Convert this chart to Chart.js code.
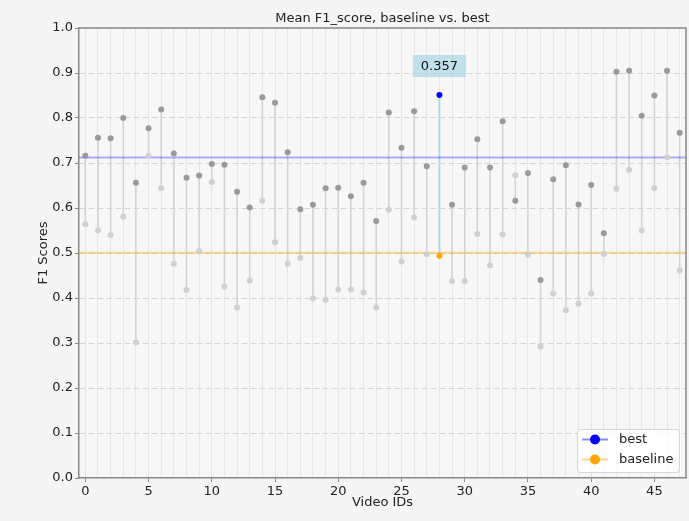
<!DOCTYPE html>
<html>
<head>
<meta charset="utf-8">
<script src="https://cdn.jsdelivr.net/npm/chart.js@4/dist/chart.umd.min.js"></script>
<style>
  html, body { margin: 0; padding: 0; background: #f5f5f5; }
  #wrap { width: 689px; height: 521px; }
  canvas { display: block; }
</style>
</head>
<body>
<div id="wrap"><canvas id="chart" width="689" height="521"></canvas></div>
<script>
// Per-video F1 scores for the two runs
const videoIds = [0, 1, 2, 3, 4, 5, 6, 7, 8, 9, 10, 11, 12, 13, 14, 15, 16, 17, 18, 19, 20, 21, 22, 23,
                  24, 25, 26, 27, 28, 29, 30, 31, 32, 33, 34, 35, 36, 37, 38, 39, 40, 41, 42, 43, 44, 45, 46, 47];
const bestScores = [0.716, 0.756, 0.755, 0.800, 0.656, 0.777, 0.819, 0.721, 0.667, 0.672,
                    0.698, 0.696, 0.636, 0.601, 0.846, 0.834, 0.724, 0.597, 0.607, 0.644,
                    0.645, 0.626, 0.656, 0.571, 0.812, 0.734, 0.815, 0.693, 0.851, 0.607,
                    0.690, 0.753, 0.690, 0.793, 0.616, 0.678, 0.440, 0.664, 0.695, 0.608,
                    0.651, 0.544, 0.903, 0.905, 0.805, 0.850, 0.905, 0.767];
const baselineScores = [0.564, 0.550, 0.540, 0.581, 0.301, 0.716, 0.644, 0.476, 0.418, 0.504,
                        0.658, 0.425, 0.379, 0.439, 0.616, 0.524, 0.476, 0.489, 0.399, 0.396,
                        0.419, 0.419, 0.412, 0.379, 0.596, 0.481, 0.579, 0.497, 0.494, 0.438,
                        0.438, 0.542, 0.473, 0.541, 0.673, 0.496, 0.292, 0.410, 0.373, 0.387,
                        0.410, 0.498, 0.643, 0.685, 0.550, 0.644, 0.713, 0.461];
const highlightId = 28;
const yTickValues = [0.0, 0.1, 0.2, 0.3, 0.4, 0.5, 0.6, 0.7, 0.8, 0.9, 1.0];
const xTickLabels = [0, 5, 10, 15, 20, 25, 30, 35, 40, 45];

const FONT = "'DejaVu Sans', sans-serif";
const mean = a => a.reduce((s, v) => s + v, 0) / a.length;
const meanBest = mean(bestScores);
const meanBaseline = mean(baselineScores);
const xMin = -0.5, xMax = 47.5;

const bestPoints = videoIds.map((id, i) => ({ x: id, y: bestScores[i] }));
const basePoints = videoIds.map((id, i) => ({ x: id, y: baselineScores[i] }));

// Vertical stems between the two scores of each video, title, axis titles,
// the outer frame, the gain annotation and the legend.
const decorations = {
  id: 'decorations',
  beforeDraw(chart) {
    const { ctx, chartArea: a } = chart;
    ctx.save();
    ctx.fillStyle = '#f7f7f7';
    ctx.fillRect(a.left, a.top, a.right - a.left, a.bottom - a.top);
    ctx.restore();
  },
  beforeDatasetsDraw(chart) {
    const { ctx, scales: { x, y } } = chart;
    ctx.save();
    videoIds.forEach((id, i) => {
      const px = x.getPixelForValue(id);
      ctx.beginPath();
      ctx.moveTo(px, y.getPixelForValue(bestScores[i]));
      ctx.lineTo(px, y.getPixelForValue(baselineScores[i]));
      if (id === highlightId) {
        ctx.strokeStyle = '#add8e6';
        ctx.lineWidth = 2;
      } else {
        ctx.strokeStyle = '#d3d3d3';
        ctx.lineWidth = 1.5;
      }
      ctx.stroke();
    });
    ctx.restore();
  },
  afterDraw(chart) {
    const { ctx, chartArea: a, scales: { x, y } } = chart;
    ctx.save();

    // top and right frame lines
    ctx.strokeStyle = '#888888';
    ctx.lineWidth = 1.5;
    ctx.beginPath();
    ctx.moveTo(a.left, a.top);
    ctx.lineTo(a.right, a.top);
    ctx.lineTo(a.right, a.bottom);
    ctx.stroke();

    // titles
    ctx.fillStyle = '#222222';
    ctx.font = '13px ' + FONT;
    ctx.textAlign = 'center';
    ctx.textBaseline = 'middle';
    ctx.fillText('Mean F1_score, baseline vs. best', (a.left + a.right) / 2, 19);
    ctx.fillText('Video IDs', (a.left + a.right) / 2, 503);
    ctx.save();
    ctx.translate(44, (a.top + a.bottom) / 2);
    ctx.rotate(-Math.PI / 2);
    ctx.fillText('F1 Scores', 0, 0);
    ctx.restore();

    // gain annotation above the highlighted video
    const hi = videoIds.indexOf(highlightId);
    const gain = (bestScores[hi] - baselineScores[hi]).toFixed(3);
    const cx = x.getPixelForValue(highlightId);
    const cy = 66;
    ctx.font = '13px ' + FONT;
    const tw = ctx.measureText(gain).width;
    ctx.fillStyle = 'rgba(173, 216, 230, 0.75)';
    ctx.fillRect(cx - tw / 2 - 8, cy - 11, tw + 16, 22);
    ctx.fillStyle = '#111111';
    ctx.fillText(gain, cx, cy + 1);

    // legend
    const lx = 577, ly = 429, lw = 102, lh = 43;
    ctx.fillStyle = 'rgba(255,255,255,0.8)';
    ctx.strokeStyle = '#d6d6d6';
    ctx.lineWidth = 1;
    ctx.beginPath();
    ctx.roundRect(lx + 0.5, ly + 0.5, lw, lh, 3);
    ctx.fill();
    ctx.stroke();
    const entries = [
      { label: 'best', line: 'rgba(0,0,255,0.45)', dot: '#0000ff', y: 439.5 },
      { label: 'baseline', line: 'rgba(255,165,0,0.45)', dot: '#ffa500', y: 459.5 }
    ];
    entries.forEach(e => {
      ctx.strokeStyle = e.line;
      ctx.lineWidth = 2;
      ctx.beginPath();
      ctx.moveTo(582, e.y);
      ctx.lineTo(608, e.y);
      ctx.stroke();
      ctx.fillStyle = e.dot;
      ctx.beginPath();
      ctx.arc(595, e.y, 5, 0, Math.PI * 2);
      ctx.fill();
      ctx.fillStyle = '#222222';
      ctx.textAlign = 'left';
      ctx.fillText(e.label, 619, e.y);
    });
    ctx.restore();
  }
};

new Chart(document.getElementById('chart'), {
  type: 'scatter',
  data: {
    datasets: [
      {
        label: 'mean best',
        type: 'line',
        data: [{ x: xMin, y: meanBest }, { x: xMax, y: meanBest }],
        borderColor: 'rgba(0,0,255,0.3)',
        borderWidth: 2,
        pointRadius: 0,
        order: 4
      },
      {
        label: 'mean baseline',
        type: 'line',
        data: [{ x: xMin, y: meanBaseline }, { x: xMax, y: meanBaseline }],
        borderColor: 'rgba(255,165,0,0.4)',
        borderWidth: 2,
        pointRadius: 0,
        order: 3
      },
      {
        label: 'baseline',
        data: basePoints,
        pointRadius: 3,
        pointHoverRadius: 3,
        pointBorderWidth: 0,
        pointBackgroundColor: videoIds.map(id => id === highlightId ? '#ffa500' : '#d0d0d0'),
        order: 2
      },
      {
        label: 'best',
        data: bestPoints,
        pointRadius: 3,
        pointHoverRadius: 3,
        pointBorderWidth: 0,
        pointBackgroundColor: videoIds.map(id => id === highlightId ? '#0000ff' : '#9a9a9a'),
        order: 1
      }
    ]
  },
  options: {
    responsive: false,
    devicePixelRatio: 1,
    animation: false,
    layout: { padding: { left: 0, top: 28, right: 3, bottom: 0 } },
    plugins: {
      legend: { display: false },
      title: { display: false },
      tooltip: { enabled: false }
    },
    scales: {
      x: {
        type: 'linear',
        min: xMin,
        max: xMax,
        afterBuildTicks: s => { s.ticks = videoIds.map(v => ({ value: v })); },
        afterFit: s => { s.height = 43; },
        ticks: {
          autoSkip: false,
          maxRotation: 0,
          padding: 2,
          color: '#222222',
          font: { family: FONT, size: 13 },
          callback: v => xTickLabels.includes(v) ? String(v) : ''
        },
        grid: {
          color: '#e6e6e6',
          lineWidth: 1,
          tickLength: 4,
          tickColor: ctx => (ctx.tick && xTickLabels.includes(ctx.tick.value)) ? '#888888' : 'rgba(0,0,0,0)'
        },
        border: { display: true, color: '#888888', width: 1.5 }
      },
      y: {
        min: 0,
        max: 1,
        afterBuildTicks: s => { s.ticks = yTickValues.map(v => ({ value: v })); },
        afterFit: s => { s.width = 79; },
        ticks: {
          padding: 2,
          color: '#222222',
          font: { family: FONT, size: 13 },
          callback: v => v.toFixed(1)
        },
        grid: {
          color: ctx => (ctx.tick && (ctx.tick.value <= 0 || ctx.tick.value >= 1)) ? 'rgba(0,0,0,0)' : '#d4d4d4',
          lineWidth: 1,
          tickLength: 4,
          tickColor: '#888888'
        },
        border: { display: true, color: '#888888', width: 1.5, dash: [6, 3] }
      }
    }
  },
  plugins: [decorations]
});
</script>
</body>
</html>
